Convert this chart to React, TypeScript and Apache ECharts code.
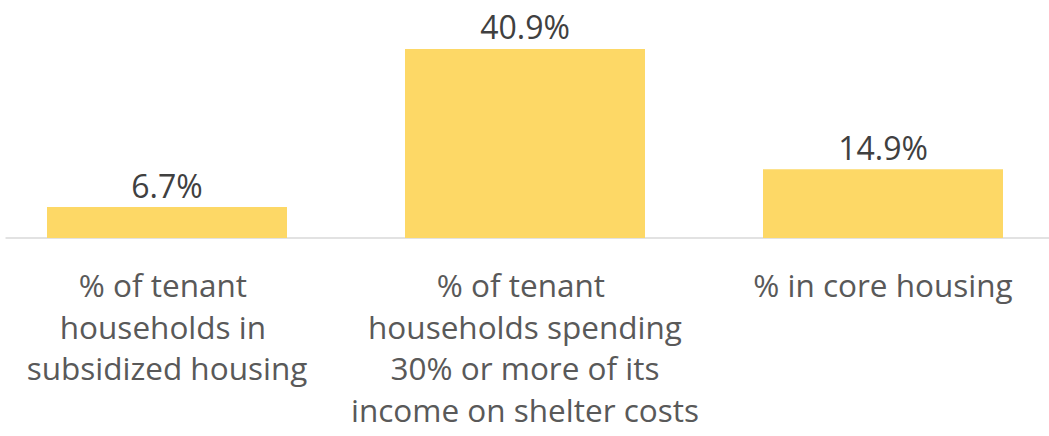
import React, { useEffect, useRef } from "react";
import * as echarts from "echarts";

const categories = [
  "% of tenant \nhouseholds in \nsubsidized housing",
  "% of tenant \nhouseholds spending\n30% or more of its\nincome on shelter costs",
  "% in core housing",
];
const values = [6.7, 40.9, 14.9];

const OFFSET = 12.5;

export default function App() {
  const ref = useRef<HTMLDivElement>(null);
  useEffect(() => {
    document.body.style.margin = "0";
    const chart = echarts.init(ref.current!, null, { renderer: "svg" });
    chart.setOption({
      animation: false,
      grid: { left: 0, right: 0, top: 30, height: 208, containLabel: false },
      xAxis: {
        type: "category",
        data: categories,
        axisLine: { show: false },
        axisTick: { show: false },
        axisLabel: {
          color: "#595959",
          fontFamily: "Open Sans",
          fontSize: 31.5,
          lineHeight: 41.5,
          margin: 26,
          interval: 0,
        },
      },
      yAxis: { type: "value", min: 0, max: 45, show: false, splitLine: { show: false } },
      graphic: [
        {
          type: "line",
          shape: { x1: 5 + OFFSET, y1: 238, x2: 1049 + OFFSET, y2: 238 },
          style: { stroke: "#d9d9d9", lineWidth: 1.5 },
          z: 0,
        },
      ],
      series: [
        {
          type: "bar",
          data: values,
          barWidth: 240,
          itemStyle: { color: "#FDD866" },
          z: 2,
          label: {
            show: true,
            position: "top",
            distance: 6,
            color: "#404040",
            fontFamily: "Open Sans",
            fontSize: 32,
            formatter: (p: any) => p.value.toFixed(1) + "%",
          },
        },
      ],
    });
    return () => chart.dispose();
  }, []);
  return (
    <div style={{ width: 1049, height: 436, overflow: "hidden", position: "relative" }}>
      <div
        ref={ref}
        style={{ position: "absolute", left: -OFFSET, top: 0, width: 1074, height: 436 }}
      />
    </div>
  );
}
